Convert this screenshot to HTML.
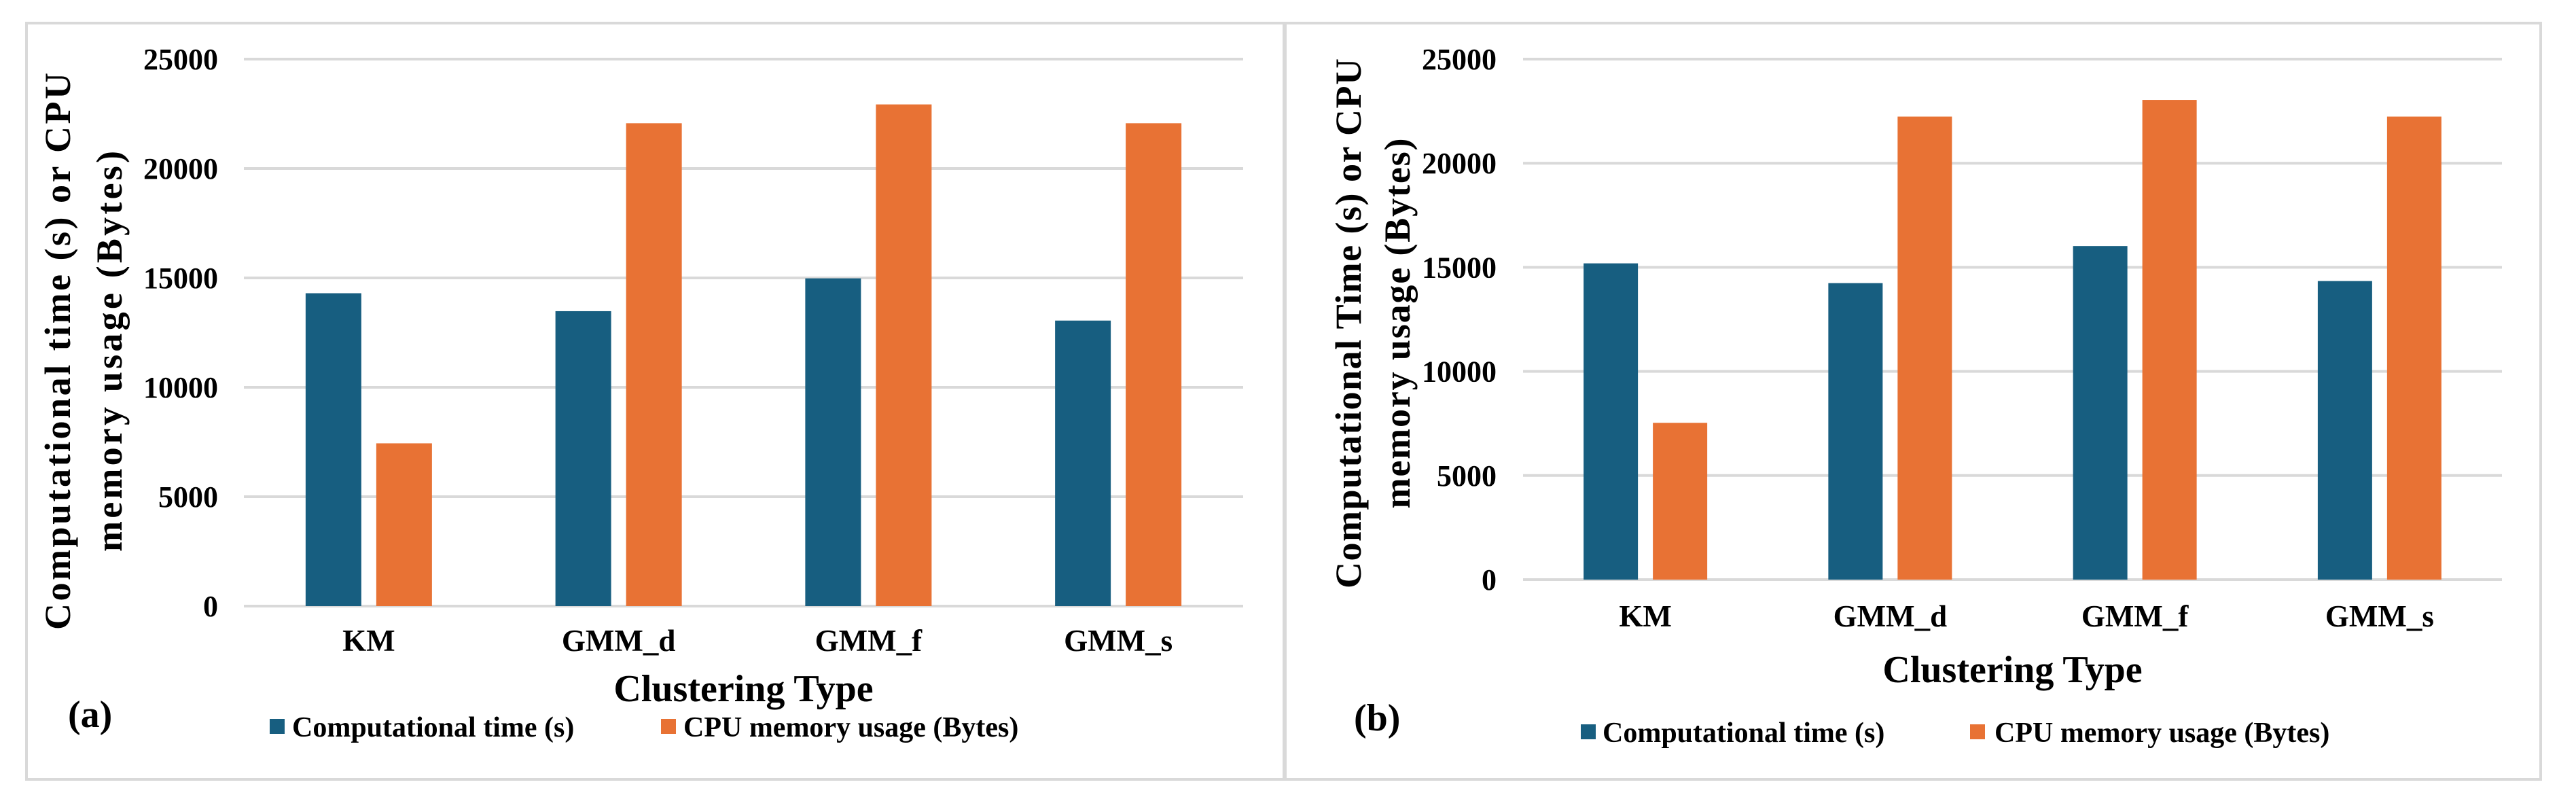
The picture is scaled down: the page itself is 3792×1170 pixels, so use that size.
<!DOCTYPE html>
<html><head><meta charset="utf-8"><style>
html,body{margin:0;padding:0;background:#fff;}
svg{display:block;font-family:"Liberation Serif",serif;font-weight:bold;}
</style></head><body>
<svg id="chart" width="3792" height="1170" viewBox="0 0 3792 1170" xmlns="http://www.w3.org/2000/svg">
<rect x="0" y="0" width="3792" height="1170" fill="#fff"/>
</svg>
<script>
const categories = ["KM","GMM_d","GMM_f","GMM_s"];
const timeA = [14300,13480,14980,13050];
const memA = [7440,22070,22930,22070];
const timeB = [15190,14240,16020,14340];
const memB = [7530,22240,23040,22240];
const yTicks = [0,5000,10000,15000,20000,25000];
const seriesNames = ["Computational time (s)","CPU memory usage (Bytes)"];
const NS="http://www.w3.org/2000/svg";
const svg=document.getElementById('chart');
function mk(tag,attrs,parent){const e=document.createElementNS(NS,tag);for(const k in attrs)e.setAttribute(k,attrs[k]);(parent||svg).appendChild(e);return e;}
const BLUE="#175E80",ORANGE="#E87234",GRID="#D9D9D9";
const panels=[
 {id:'a',box:[39,34,1890,1147],x0:359,x1:1830,yTop:87,yBot:892,tickX:321,catY:958,titleY:1032,legY:1084,
  blueSq:397,blueTx:430,orSq:973,orTx:1006,lab:'(a)',labX:100,labY:1070,
  t1:"Computational  time (s) or CPU",t2:"memory usage (Bytes)",t1x:85,t2x:161,t1c:517,t1len:820,t2len:590,
  time:timeA,mem:memA,bw:82,gap:22},
 {id:'b',box:[1892,34,3740,1147],x0:2242,x1:3683,yTop:87,yBot:853,tickX:2203,catY:922,titleY:1004,legY:1092,
  blueSq:2327,blueTx:2359,orSq:2900,orTx:2936,lab:'(b)',labX:1993,labY:1075,
  t1:"Computational Time (s) or CPU",t2:"memory usage (Bytes)",t1x:1985,t2x:2057,t1c:476,t1len:780,t2len:545,
  time:timeB,mem:memB,bw:80,gap:22}
];
panels.forEach(p=>{
  const g=mk('g',{});
  
  
  const [bx0,by0,bx1,by1]=p.box;
  const border=mk('rect',{x:bx0,y:by0,width:bx1-bx0,height:by1-by0,fill:'none',stroke:GRID,'stroke-width':4},g);
  
  
  const maxV=yTicks[yTicks.length-1];
  const yS=v=>p.yBot-(v/maxV)*(p.yBot-p.yTop);
  const grp=(p.x1-p.x0)/categories.length;
  const xC=i=>p.x0+grp*(i+0.5);
  yTicks.forEach(t=>{
    const l=mk('line',{x1:p.x0,x2:p.x1,y1:yS(t),y2:yS(t),stroke:GRID,'stroke-width':4},g);
    
    
    const tx=mk('text',{x:p.tickX,y:yS(t)+15,'text-anchor':'end','font-size':44,fill:'#000'},g);
    tx.textContent=t;
    
    
  });
  categories.forEach((c,i)=>{
    const cx=xC(i);
    const b1=mk('rect',{x:cx-p.gap/2-p.bw,y:yS(p.time[i]),width:p.bw,height:yS(0)-yS(p.time[i]),fill:BLUE},g);
    
    
    const b2=mk('rect',{x:cx+p.gap/2,y:yS(p.mem[i]),width:p.bw,height:yS(0)-yS(p.mem[i]),fill:ORANGE},g);
    
    
    const t=mk('text',{x:cx,y:p.catY,'text-anchor':'middle','font-size':45,fill:'#000'},g);
    t.textContent=c;
    
    
  });
  const xt=mk('text',{x:(p.x0+p.x1)/2,y:p.titleY,'text-anchor':'middle','font-size':56,fill:'#000'},g);
  xt.textContent="Clustering Type";
  
  
  const y1=mk('text',{x:0,y:0,'text-anchor':'middle','font-size':54,fill:'#000',textLength:p.t1len,lengthAdjust:'spacing',transform:`translate(${p.t1x+18},${p.t1c}) rotate(-90)`},g);
  y1.textContent=p.t1;
  
  
  const y2=mk('text',{x:0,y:0,'text-anchor':'middle','font-size':54,fill:'#000',textLength:p.t2len,lengthAdjust:'spacing',transform:`translate(${p.t2x+18},${p.t1c}) rotate(-90)`},g);
  y2.textContent=p.t2;
  
  
  const lb=mk('text',{x:p.labX,y:p.labY,'font-size':56,fill:'#000'},g);
  lb.textContent=p.lab;
  
  
  [[p.blueSq,p.blueTx,BLUE,seriesNames[0]],[p.orSq,p.orTx,ORANGE,seriesNames[1]]].forEach(([sx,tx,col,name],k)=>{
    const sq=mk('rect',{x:sx,y:p.legY-26,width:22,height:22,fill:col},g);
    
    
    const t=mk('text',{x:tx,y:p.legY,'font-size':42,fill:'#000'},g);
    t.textContent=name;
    
    
  });
});
</script>
</body></html>
